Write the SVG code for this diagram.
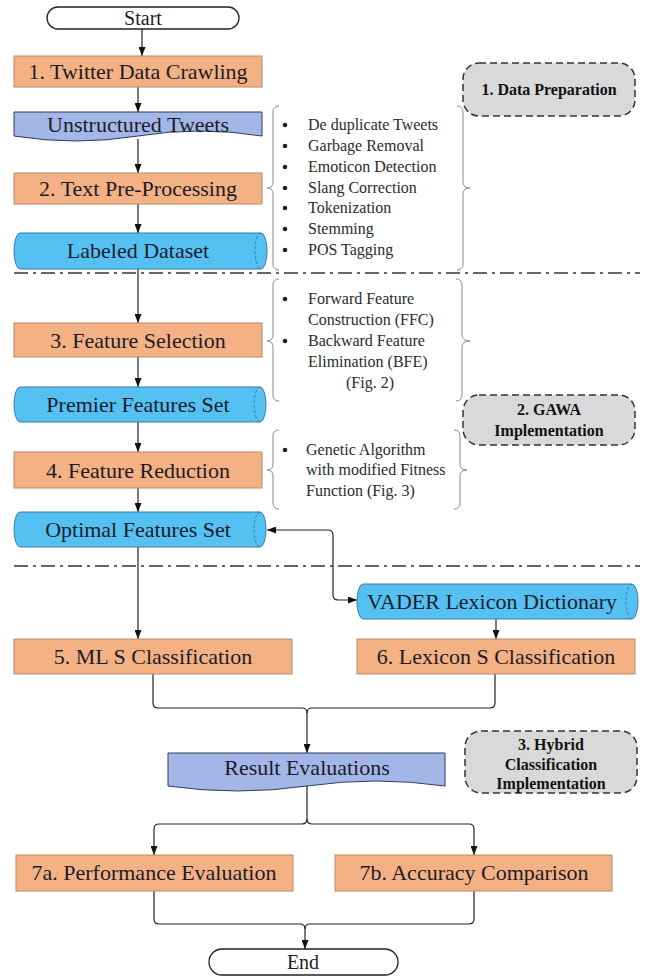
<svg xmlns="http://www.w3.org/2000/svg" width="645" height="979" viewBox="0 0 645 979" font-family="Liberation Serif, DejaVu Serif, serif">
<defs>
<marker id="arr" viewBox="0 0 9 7" refX="9" refY="3.5" markerWidth="9" markerHeight="7" markerUnits="userSpaceOnUse" orient="auto-start-reverse"><path d="M0,0 L9,3.5 L0,7 z" fill="#111"/></marker>
<style>
text{font-family:'Liberation Serif','DejaVu Serif',serif;fill:#1c1c28}
.t{font-size:22px;text-anchor:middle}
.b{font-size:16px;fill:#2b2b2b}
.bc{font-size:16px;fill:#2b2b2b;text-anchor:middle}
.lab{font-size:16px;font-weight:bold;text-anchor:middle;fill:#111}
.term{fill:#fff;stroke:#222;stroke-width:1.3}
.proc{fill:#F4B183;stroke:#B98A6C;stroke-width:1}
.doc{fill:#A2B7E8;stroke:#2E3B5E;stroke-width:1}
.cyl{fill:#55C1F3;stroke:#3A7CA5;stroke-width:1}
.cyle{fill:none;stroke:#2F6D96;stroke-width:0.8;stroke-dasharray:3 2}
.grp{fill:#D9D9D9;stroke:#333;stroke-width:1.5;stroke-dasharray:7 4}
.brace{fill:none;stroke:#8a8a8a;stroke-width:1}
.sep{stroke:#333;stroke-width:1.5;stroke-dasharray:14 5 3 5}
.c{fill:none;stroke:#222;stroke-width:1.2}
.ca{fill:none;stroke:#222;stroke-width:1.2;marker-end:url(#arr)}
.bul{fill:#222}
</style>
</defs>

<g id="separators">
<line class="sep" x1="14" y1="273" x2="640" y2="273"/>
<line class="sep" x1="14" y1="566" x2="640" y2="566"/>
</g>

<g id="connectors">
<path class="ca" d="M142,29 V56"/>
<path class="ca" d="M138,87 V112"/>
<path class="ca" d="M138,139 V173"/>
<path class="ca" d="M138,204 V233"/>
<path class="ca" d="M138,269 V323"/>
<path class="ca" d="M138,357 V387"/>
<path class="ca" d="M138,422 V452"/>
<path class="ca" d="M138,488 V512"/>
<path class="ca" d="M138,547 V639"/>
<path class="ca" d="M267,530 H328 Q333,530 333,535 V595 Q333,600 338,600 H357" style="marker-start:url(#arr)"/>
<path class="ca" d="M496,619 V639"/>
<path class="c" d="M153,674 V703 Q153,708 158,708 H302 Q307,708 307,713"/>
<path class="c" d="M495,674 V703 Q495,708 490,708 H312 Q307,708 307,713"/>
<path class="ca" d="M307,713 V753"/>
<path class="c" d="M307,786 V819 Q307,824 302,824 H159 Q154,824 154,829"/>
<path class="c" d="M307,819 Q307,824 312,824 H469 Q474,824 474,829"/>
<path class="ca" d="M154,829 V855"/>
<path class="ca" d="M474,829 V855"/>
<path class="c" d="M154,891 V919 Q154,924 159,924 H300 Q305,924 305,929"/>
<path class="c" d="M474,891 V919 Q474,924 469,924 H310 Q305,924 305,929"/>
<path class="ca" d="M305,929 V949"/>
</g>

<g id="start">
<rect class="term" x="47" y="7" width="192" height="22" rx="11"/>
<text class="t" x="143" y="25" style="font-size:20px">Start</text>
</g>

<g id="n1">
<rect class="proc" x="14" y="56" width="248" height="31"/>
<text class="t" x="138" y="79">1. Twitter Data Crawling</text>
</g>

<g id="unstructured">
<path class="doc" d="M14,112 H262 V136 Q200,126 138,136 T14,136 Z"/>
<text class="t" x="138" y="132">Unstructured Tweets</text>
</g>

<g id="n2">
<rect class="proc" x="14" y="173" width="248" height="31"/>
<text class="t" x="138" y="196">2. Text Pre-Processing</text>
</g>

<g id="labeled">
<path class="cyl" d="M20,233 H261 A6,18 0 0 1 261,269 H20 A6,18 0 0 1 20,233 Z"/>
<path class="cyle" d="M261,233 A6,18 0 0 0 261,269"/>
<text class="t" x="138" y="258">Labeled Dataset</text>
</g>

<g id="n3">
<rect class="proc" x="14" y="323" width="248" height="34"/>
<text class="t" x="138" y="348">3. Feature Selection</text>
</g>

<g id="premier">
<path class="cyl" d="M20,387 H260 A6,17.5 0 0 1 260,422 H20 A6,17.5 0 0 1 20,387 Z"/>
<path class="cyle" d="M260,387 A6,17.5 0 0 0 260,422"/>
<text class="t" x="138" y="412">Premier Features Set</text>
</g>

<g id="n4">
<rect class="proc" x="14" y="452" width="248" height="36"/>
<text class="t" x="138" y="478">4. Feature Reduction</text>
</g>

<g id="optimal">
<path class="cyl" d="M20,512 H260 A6,17.5 0 0 1 260,547 H20 A6,17.5 0 0 1 20,512 Z"/>
<path class="cyle" d="M260,512 A6,17.5 0 0 0 260,547"/>
<text class="t" x="138" y="537">Optimal Features Set</text>
</g>

<g id="vader">
<path class="cyl" d="M363,584 H632 A6,17.5 0 0 1 632,619 H363 A6,17.5 0 0 1 363,584 Z"/>
<path class="cyle" d="M632,584 A6,17.5 0 0 0 632,619"/>
<text class="t" x="492" y="609">VADER Lexicon Dictionary</text>
</g>

<g id="n5">
<rect class="proc" x="14" y="639" width="278" height="35"/>
<text class="t" x="153" y="664">5. ML S Classification</text>
</g>

<g id="n6">
<rect class="proc" x="357" y="639" width="278" height="35"/>
<text class="t" x="496" y="664">6. Lexicon S Classification</text>
</g>

<g id="result">
<path class="doc" d="M168,753 H445 V786 Q376,776 307,786 T168,786 Z"/>
<text class="t" x="307" y="775">Result Evaluations</text>
</g>

<g id="n7a">
<rect class="proc" x="16" y="855" width="277" height="36"/>
<text class="t" x="154" y="880">7a. Performance Evaluation</text>
</g>

<g id="n7b">
<rect class="proc" x="335" y="855" width="277" height="36"/>
<text class="t" x="474" y="880">7b. Accuracy Comparison</text>
</g>

<g id="end">
<rect class="term" x="209" y="949" width="189" height="26" rx="13"/>
<text class="t" x="303" y="969" style="font-size:20px">End</text>
</g>

<g id="group1">
<rect class="grp" x="463" y="63" width="172" height="53" rx="16"/>
<text class="lab" x="549" y="95">1. Data Preparation</text>
</g>

<g id="group2">
<rect class="grp" x="463" y="395" width="172" height="50" rx="16"/>
<text class="lab" x="549" y="415">2. GAWA</text>
<text class="lab" x="549" y="436">Implementation</text>
</g>

<g id="group3">
<rect class="grp" x="465" y="731" width="172" height="62" rx="16"/>
<text class="lab" x="551" y="750">3. Hybrid</text>
<text class="lab" x="551" y="770">Classification</text>
<text class="lab" x="551" y="789">Implementation</text>
</g>

<g id="notes1">
<path class="brace" d="M279,106 Q273,106 273,112 V182 Q273,188 267,188 Q273,188 273,194 V264 Q273,270 279,270"/>
<path class="brace" d="M457,106 Q463,106 463,112 V182 Q463,188 470,188 Q463,188 463,194 V264 Q463,270 457,270"/>
<circle class="bul" cx="285" cy="125" r="2.3"/>
<circle class="bul" cx="285" cy="146" r="2.3"/>
<circle class="bul" cx="285" cy="167" r="2.3"/>
<circle class="bul" cx="285" cy="188" r="2.3"/>
<circle class="bul" cx="285" cy="208" r="2.3"/>
<circle class="bul" cx="285" cy="229" r="2.3"/>
<circle class="bul" cx="285" cy="250" r="2.3"/>
<text class="b" x="308" y="130">De duplicate Tweets</text>
<text class="b" x="308" y="151">Garbage Removal</text>
<text class="b" x="308" y="172">Emoticon Detection</text>
<text class="b" x="308" y="193">Slang Correction</text>
<text class="b" x="308" y="213">Tokenization</text>
<text class="b" x="308" y="234">Stemming</text>
<text class="b" x="308" y="255">POS Tagging</text>
</g>

<g id="notes2">
<path class="brace" d="M279,279 Q273,279 273,285 V335 Q273,341 267,341 Q273,341 273,347 V395 Q273,401 279,401"/>
<path class="brace" d="M456,279 Q462,279 462,285 V335 Q462,341 470,341 Q462,341 462,347 V395 Q462,401 456,401"/>
<circle class="bul" cx="285" cy="299" r="2.3"/>
<circle class="bul" cx="285" cy="341" r="2.3"/>
<text class="b" x="308" y="304">Forward Feature</text>
<text class="b" x="308" y="325">Construction (FFC)</text>
<text class="b" x="308" y="346">Backward Feature</text>
<text class="b" x="308" y="367">Elimination (BFE)</text>
<text class="bc" x="370" y="388">(Fig. 2)</text>
</g>

<g id="notes3">
<path class="brace" d="M279,430 Q273,430 273,436 V464 Q273,470 267,470 Q273,470 273,476 V503 Q273,509 279,509"/>
<path class="brace" d="M454,430 Q460,430 460,436 V464 Q460,470 467,470 Q460,470 460,476 V503 Q460,509 454,509"/>
<circle class="bul" cx="285" cy="450" r="2.3"/>
<text class="b" x="306" y="455">Genetic Algorithm</text>
<text class="b" x="306" y="475">with modified Fitness</text>
<text class="b" x="306" y="496">Function (Fig. 3)</text>
</g>
</svg>
